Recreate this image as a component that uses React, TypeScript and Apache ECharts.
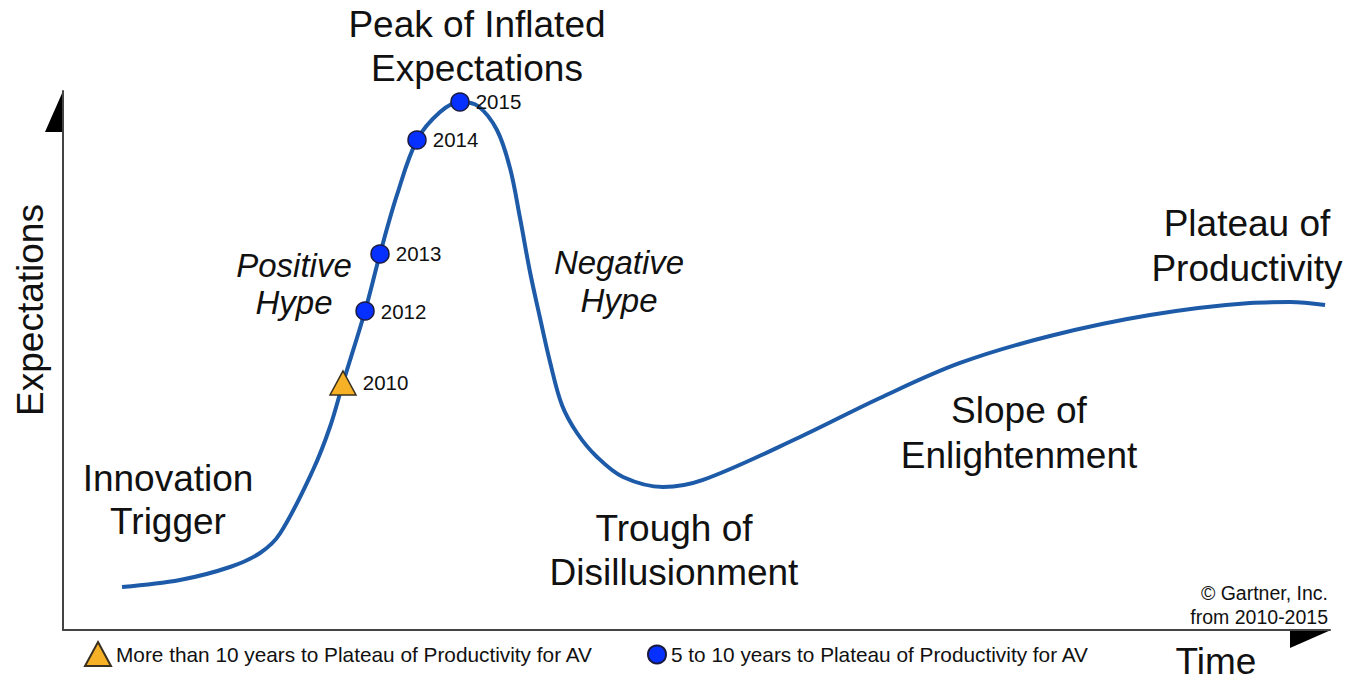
import React, { useEffect, useRef } from "react";
import * as echarts from "echarts";

// Hype curve (time 0-100, expectations 0-100)
const curveTime = [4.66, 9.23, 13.18, 15.55, 17.13, 19.73, 21.07, 22.1, 23.84, 25.02, 26.36, 27.94, 29.76, 31.33, 32.75, 34.25, 35.28, 36.07, 36.86, 37.65, 38.44, 39.38, 40.57, 42.15, 44.2, 47.36, 50.51, 58.17, 64.48, 70.8, 77.9, 85.79, 93.69, 96.84, 99.61];
const curveExp = [7.98, 9.28, 11.69, 14.29, 17.9, 29.68, 37.66, 45.83, 59.18, 69.76, 80.71, 90.91, 96.1, 97.96, 97.22, 92.76, 85.71, 76.44, 66.42, 57.88, 49.72, 41.74, 36.55, 32.1, 28.39, 26.53, 27.83, 35.81, 43.04, 49.54, 54.55, 58.44, 60.67, 60.85, 60.3];

// Year markers
const longYears = ["2010"];
const longTime = [22.1];
const longExp = [45.83];
const midYears = ["2012", "2013", "2014", "2015"];
const midTime = [23.84, 25.02, 27.94, 31.33];
const midExp = [59.18, 69.76, 90.91, 97.96];

const longName = "More than 10 years to Plateau of Productivity for AV";
const midName = "5 to 10 years to Plateau of Productivity for AV";

const FONT = "'Liberation Sans', Arial, Helvetica, sans-serif";

export default function App() {
  const ref = useRef<HTMLDivElement>(null);
  useEffect(() => {
    if (!ref.current) return;
    const chart = echarts.init(ref.current, null, { renderer: "svg" });
    const big = (text: string, x: number, y: number, italic = false) => ({
      type: "text",
      x,
      y,
      style: {
        text,
        fill: "#111",
        font: `${italic ? "italic " : ""}${italic ? 33 : 37}px ${FONT}`,
        textAlign: "center",
        textVerticalAlign: "middle",
      },
    });
    const yearLabel = {
      show: true,
      position: "right",
      distance: 6,
      fontSize: 20.5,
      fontFamily: FONT,
      color: "#111",
      formatter: (p: any) => p.value[2],
    };
    chart.setOption({
      animation: false,
      backgroundColor: "#fff",
      grid: { left: 63, top: 91, right: 27, bottom: 52 },
      xAxis: {
        type: "value",
        min: 0,
        max: 100,
        axisLine: { show: true, lineStyle: { color: "#444", width: 2 } },
        axisTick: { show: false },
        axisLabel: { show: false },
        splitLine: { show: false },
      },
      yAxis: {
        type: "value",
        min: 0,
        max: 100,
        axisLine: { show: true, lineStyle: { color: "#444", width: 2 } },
        axisTick: { show: false },
        axisLabel: { show: false },
        splitLine: { show: false },
      },
      legend: [
        {
          data: [longName],
          left: 84,
          top: 641,
          padding: 0,
          itemWidth: 26,
          itemHeight: 24,
          textStyle: { fontSize: 20.8, fontFamily: FONT, color: "#111" },
        },
        {
          data: [midName],
          left: 647,
          top: 644,
          padding: 0,
          itemWidth: 18,
          itemHeight: 18,
          textStyle: { fontSize: 20.8, fontFamily: FONT, color: "#111" },
        },
      ],
      series: [
        {
          type: "line",
          name: "curve",
          data: curveTime.map((t, i) => [t, curveExp[i]]),
          smooth: 0.35,
          showSymbol: false,
          lineStyle: { color: "#1d5aa8", width: 4 },
          z: 2,
        },
        {
          type: "scatter",
          name: longName,
          data: longTime.map((t, i) => [t, longExp[i], longYears[i]]),
          symbol: "triangle",
          symbolSize: [26, 24],
          itemStyle: { color: "#f7b126", borderColor: "#3a3020", borderWidth: 1.5, opacity: 1 },
          label: yearLabel,
          z: 3,
        },
        {
          type: "scatter",
          name: midName,
          data: midTime.map((t, i) => [t, midExp[i], midYears[i]]),
          symbol: "circle",
          symbolSize: 18,
          itemStyle: { color: "#0530ff", borderColor: "#1a1a40", borderWidth: 1.5, opacity: 1 },
          label: yearLabel,
          z: 3,
        },
      ],
      graphic: [
        { type: "polygon", shape: { points: [[63, 91], [63, 132], [45, 132]] }, style: { fill: "#000" } },
        { type: "polygon", shape: { points: [[1290, 630], [1331, 630], [1290, 648]] }, style: { fill: "#000" } },
        big("Peak of Inflated", 477, 24),
        big("Expectations", 477, 68),
        big("Positive", 294, 265, true),
        big("Hype", 294, 302, true),
        big("Negative", 619, 262, true),
        big("Hype", 619, 300, true),
        big("Innovation", 168, 478),
        big("Trigger", 168, 521),
        big("Trough of", 674, 528),
        big("Disillusionment", 674, 572),
        big("Slope of", 1019, 410),
        big("Enlightenment", 1019, 455),
        big("Plateau of", 1247, 223),
        big("Productivity", 1247, 268),
        big("Time", 1216, 661),
        {
          type: "text",
          x: 30,
          y: 310,
          rotation: Math.PI / 2,
          style: {
            text: "Expectations",
            fill: "#111",
            font: `37px ${FONT}`,
            textAlign: "center",
            textVerticalAlign: "middle",
          },
        },
        {
          type: "text",
          x: 1328,
          y: 593,
          style: { text: "© Gartner, Inc.", fill: "#111", font: `19.5px ${FONT}`, textAlign: "right", textVerticalAlign: "middle" },
        },
        {
          type: "text",
          x: 1328,
          y: 617,
          style: { text: "from 2010-2015", fill: "#111", font: `19.5px ${FONT}`, textAlign: "right", textVerticalAlign: "middle" },
        },
      ],
    });
    return () => chart.dispose();
  }, []);
  return <div ref={ref} style={{ position: "absolute", left: 0, top: 0, width: 1357, height: 682 }} />;
}
